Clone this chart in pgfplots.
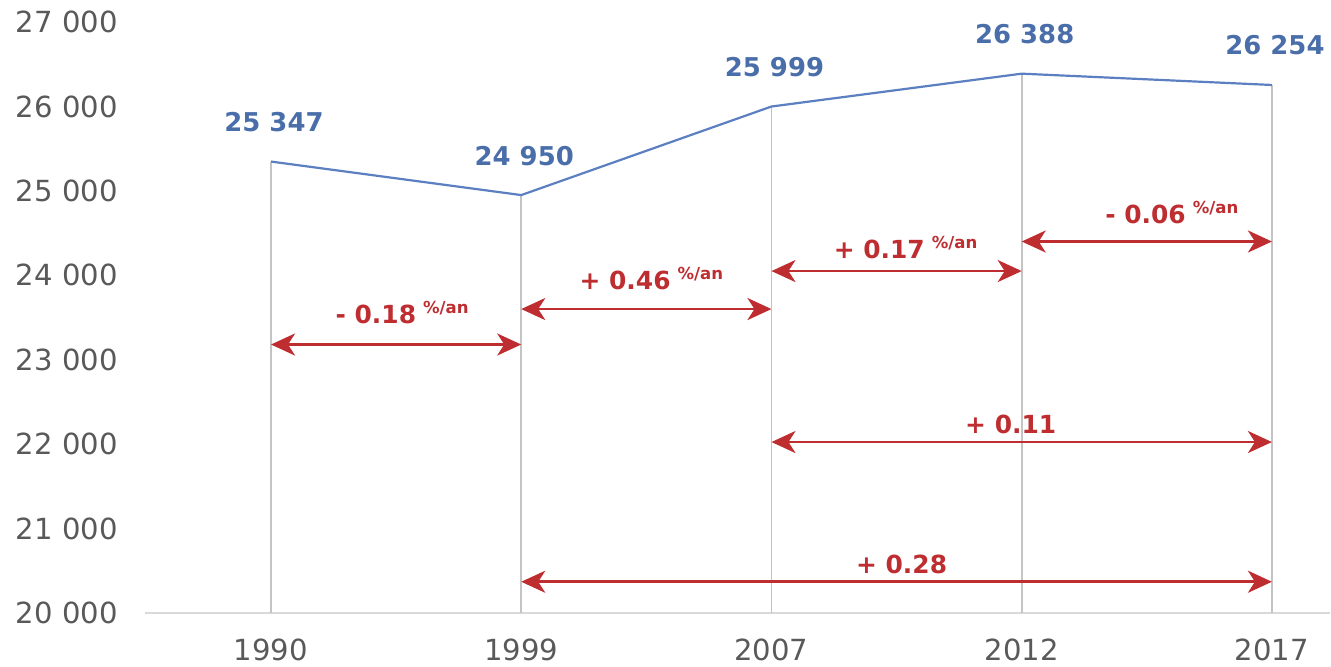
\documentclass[border=0pt]{standalone}
\usepackage{pgfplots}
\pgfplotsset{compat=1.18}
\usepackage{fontspec}
\setmainfont{DejaVu Sans}
\usetikzlibrary{arrows.meta}

\definecolor{popline}{RGB}{91,127,192}
\definecolor{poplabel}{RGB}{74,110,170}
\definecolor{ratered}{RGB}{190,45,48}
\definecolor{ticktext}{RGB}{89,89,89}
\definecolor{dropgray}{RGB}{196,196,196}
\definecolor{axisgray}{RGB}{217,217,217}

% annual growth rate with its small raised unit
\newcommand{\rate}[1]{#1\hspace{3.5bp}\raisebox{5bp}{\fontsize{8.3}{8.3}\selectfont\%/an}}

\tikzset{
  growth/.style={ratered, line width=1.4bp,
    {Stealth[length=12bp,width=11bp,inset=3.5bp]}-{Stealth[length=12bp,width=11bp,inset=3.5bp]}},
  growthlabel/.style={anchor=base, inner sep=0pt, text=ratered,
    font=\bfseries\fontsize{12.5}{12.5}\selectfont},
}

\begin{document}
\begin{tikzpicture}
\useasboundingbox (0,0) rectangle (665.5bp,333.5bp);
\begin{axis}[
  at={(72.5bp,27bp)}, anchor=south west,
  scale only axis, width=592.5bp, height=295.5bp,
  xmin=-0.5035, xmax=4.232, ymin=20000, ymax=27000,
  scaled y ticks=false,
  axis x line*=bottom, axis y line*=left,
  x axis line style={-, draw=axisgray, line width=0.6bp},
  y axis line style={draw=none},
  major tick length=0pt, tick style={draw=none},
  xtick={0,1,2,3,4},
  xticklabels={1990,1999,2007,2012,2017},
  ytick={20000,21000,22000,23000,24000,25000,26000,27000},
  yticklabels={20 000,21 000,22 000,23 000,24 000,25 000,26 000,27 000},
  ticklabel style={font=\fontsize{14.6}{14.6}\selectfont, text=ticktext, inner sep=0pt},
  xticklabel style={anchor=base, yshift=-23.5bp},
  yticklabel style={anchor=east, xshift=-13.5bp},
  clip=false,
]

% drop lines from each census value down to the axis
\addplot[dropgray, line width=0.9bp, unbounded coords=jump] coordinates {
  (0,20000) (0,25347) (0,nan)
  (1,20000) (1,24950) (1,nan)
  (2,20000) (2,25999) (2,nan)
  (3,20000) (3,26388) (3,nan)
  (4,20000) (4,26254)
};

% population
\addplot[popline, line width=1.1bp, mark=none,
  nodes near coords, point meta=explicit symbolic,
  every node near coord/.append style={anchor=base, inner sep=0pt,
    yshift=15bp, xshift=1.5bp, text=poplabel,
    font=\bfseries\fontsize{13}{13}\selectfont}]
  coordinates {
  (0,25347) [25 347]
  (1,24950) [24 950]
  (2,25999) [25 999]
  (3,26388) [26 388]
  (4,26254) [26 254]
};

% average annual growth between censuses
\addplot[growth] coordinates {(0,23180) (1,23180)}
  node[growthlabel, pos=0.5, yshift=10.5bp, xshift=3bp] {\rate{- 0.18}};
\addplot[growth] coordinates {(1,23600) (2,23600)}
  node[growthlabel, pos=0.5, yshift=10bp, xshift=2.5bp] {\rate{+ 0.46}};
\addplot[growth] coordinates {(2,24050) (3,24050)}
  node[growthlabel, pos=0.5, yshift=6.5bp, xshift=4.5bp] {\rate{+ 0.17}};
\addplot[growth] coordinates {(3,24400) (4,24400)}
  node[growthlabel, pos=0.5, yshift=9bp, xshift=12.5bp] {\rate{- 0.06}};
\addplot[growth] coordinates {(2,22025) (4,22025)}
  node[growthlabel, pos=0.5, yshift=4.5bp, xshift=-5.5bp] {+ 0.11};
\addplot[growth] coordinates {(1,20370) (4,20370)}
  node[growthlabel, pos=0.5, yshift=4bp, xshift=2.5bp] {+ 0.28};

\end{axis}
\end{tikzpicture}
\end{document}
